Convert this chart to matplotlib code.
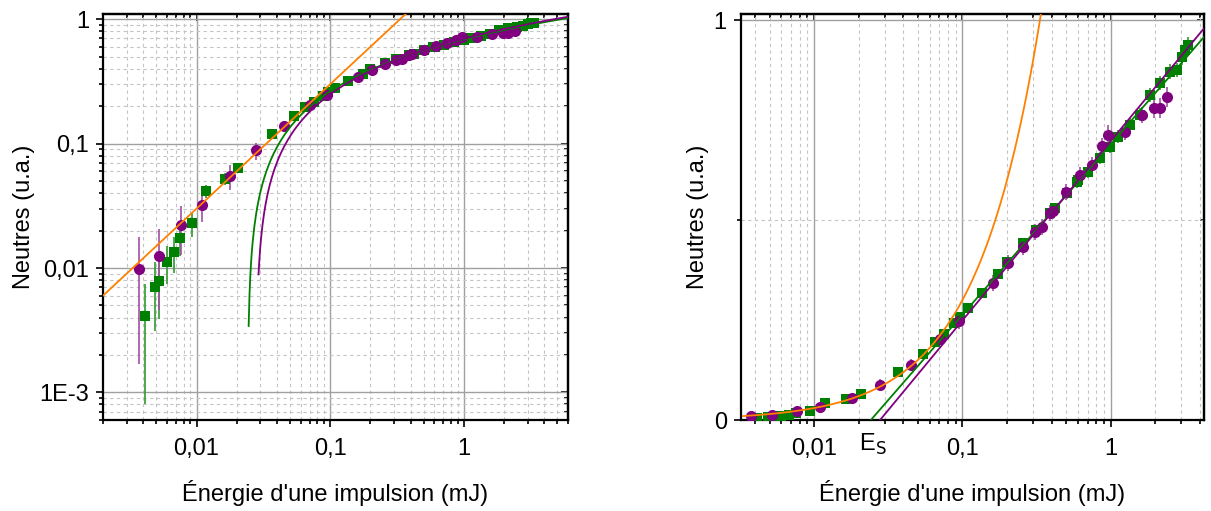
import numpy as np
import matplotlib
matplotlib.use('Agg')
import matplotlib.pyplot as plt
from matplotlib.ticker import FixedLocator, FuncFormatter, LogLocator, NullFormatter
from matplotlib.transforms import blended_transform_factory

plt.rcParams['font.family'] = ['Liberation Sans', 'DejaVu Sans']

# Green squares: energy (mJ), neutrons (a.u.), error
green_x = [0.0041, 0.0049, 0.0052, 0.0060, 0.0068, 0.0075, 0.0093, 0.0118, 0.0164, 0.0206,
           0.037, 0.054, 0.065, 0.075, 0.088, 0.096, 0.109, 0.136, 0.175, 0.200,
           0.255, 0.313, 0.389, 0.423, 0.505, 0.589, 0.604, 0.705, 0.845, 0.993,
           1.125, 1.349, 1.574, 1.84, 2.15, 2.51, 2.79, 3.01, 3.17, 3.33]
green_y = [0.0041, 0.0071, 0.0079, 0.0112, 0.0134, 0.0175, 0.0229, 0.0417, 0.0523, 0.0641,
           0.120, 0.166, 0.195, 0.215, 0.242, 0.258, 0.281, 0.318, 0.365, 0.396,
           0.442, 0.475, 0.517, 0.529, 0.567, 0.596, 0.600, 0.621, 0.654, 0.683,
           0.708, 0.738, 0.763, 0.8125, 0.842, 0.871, 0.875, 0.908, 0.925, 0.9375]
green_err = [0.0033, 0.004, 0.004, 0.0038, 0.0043, 0.005, 0.005, 0.005, 0.006, 0.006,
             0.008, 0.008, 0.008, 0.010, 0.010, 0.010, 0.010, 0.010, 0.012, 0.012,
             0.012, 0.012, 0.014, 0.014, 0.014, 0.015, 0.015, 0.015, 0.015, 0.016,
             0.016, 0.016, 0.016, 0.018, 0.018, 0.018, 0.018, 0.02, 0.02, 0.02]

# Purple circles
purple_x = [0.00373, 0.0052, 0.0077, 0.0109, 0.0179, 0.0280, 0.0448, 0.0711, 0.095, 0.161,
            0.204, 0.255, 0.308, 0.342, 0.39, 0.41, 0.50, 0.621, 0.745, 0.869,
            0.963, 1.249, 1.62, 1.96, 2.15, 2.39]
purple_y = [0.0098, 0.0126, 0.0222, 0.0323, 0.0547, 0.088, 0.138, 0.203, 0.247, 0.343,
            0.392, 0.433, 0.471, 0.482, 0.517, 0.523, 0.569, 0.6125, 0.6375, 0.685,
            0.7125, 0.72, 0.7625, 0.78, 0.78, 0.807]
purple_err = [0.0081, 0.008, 0.0095, 0.009, 0.012, 0.014, 0.015, 0.015, 0.02, 0.02,
              0.02, 0.02, 0.02, 0.02, 0.02, 0.02, 0.02, 0.02, 0.02, 0.02,
              0.025, 0.02, 0.02, 0.025, 0.025, 0.025]

# Fit parameters
orange_coef = 3.0                       # N = a * E
green_slope, green_es = 0.426, 0.0241   # N = k * log10(E / Es)
purple_slope, purple_es = 0.448, 0.0278

GREEN = '#008000'
PURPLE = '#800080'
ORANGE = '#FF8000'


def draw_data(ax):
    ax.errorbar(green_x, green_y, yerr=green_err, fmt='s', color=GREEN, ms=7.5, mew=0,
                ecolor='#2f9a2f', elinewidth=1.2, capsize=3, capthick=1.2, zorder=3)
    ax.errorbar(purple_x, purple_y, yerr=purple_err, fmt='o', color=PURPLE, ms=8, mew=0,
                ecolor='#a34fa3', elinewidth=1.2, capsize=3, capthick=1.2, zorder=3)


def style(ax, xlim, ylim, ymajor, ylabels, yminor=None):
    ax.set_xlim(*xlim)
    ax.set_ylim(*ylim)
    xlab = {0.01: '0,01', 0.1: '0,1', 1: '1'}
    ax.xaxis.set_major_locator(FixedLocator([0.01, 0.1, 1]))
    ax.xaxis.set_major_formatter(FuncFormatter(lambda v, p: xlab.get(round(v, 4), '')))
    ax.xaxis.set_minor_locator(LogLocator(base=10, subs=np.arange(2, 10), numticks=30))
    ax.xaxis.set_minor_formatter(NullFormatter())
    ax.yaxis.set_major_locator(FixedLocator(ymajor))
    ax.yaxis.set_major_formatter(FuncFormatter(lambda v, p: ylabels.get(round(v, 4), '')))
    if yminor is not None:
        ax.yaxis.set_minor_locator(yminor)
    ax.yaxis.set_minor_formatter(NullFormatter())
    ax.set_axisbelow(True)
    ax.grid(which='major', color='#a0a0a0', lw=1.0, ls='-')
    ax.grid(which='minor', color='#c4c4c4', lw=0.8, ls=(0, (3, 3)))
    for s in ax.spines.values():
        s.set_linewidth(1.6)
    ax.tick_params(which='both', direction='out', top=False, right=False, width=1.2,
                   labelsize=17, colors='black')
    ax.tick_params(which='major', length=5)
    ax.tick_params(which='minor', length=3)
    ax.tick_params(axis='x', which='major', pad=8)
    ax.tick_params(axis='y', which='major', pad=5)
    # inward ticks on top and right
    top = ax.secondary_xaxis('top')
    top.xaxis.set_major_locator(FixedLocator([0.01, 0.1, 1]))
    top.xaxis.set_minor_locator(LogLocator(base=10, subs=np.arange(2, 10), numticks=30))
    top.xaxis.set_major_formatter(NullFormatter())
    top.xaxis.set_minor_formatter(NullFormatter())
    top.tick_params(which='both', direction='in', width=1.2)
    top.tick_params(which='major', length=5)
    top.tick_params(which='minor', length=3)
    top.spines['top'].set_linewidth(1.6)
    right = ax.secondary_yaxis('right')
    right.yaxis.set_major_locator(FixedLocator(ymajor))
    if yminor is not None:
        right.yaxis.set_minor_locator(yminor)
    right.yaxis.set_major_formatter(NullFormatter())
    right.yaxis.set_minor_formatter(NullFormatter())
    right.tick_params(which='both', direction='in', width=1.2)
    right.tick_params(which='major', length=5)
    right.tick_params(which='minor', length=3)
    right.spines['right'].set_linewidth(1.6)
    ax.set_xlabel("Énergie d'une impulsion (mJ)", fontsize=17, labelpad=14)
    ax.set_ylabel("Neutres (u.a.)", fontsize=17, labelpad=3)


fig = plt.figure(figsize=(12.11, 5.11), dpi=100)

# Left panel: log-log
ax1 = fig.add_axes([0.0851, 0.178, 0.3839, 0.7946])
ax1.set_xscale('log')
ax1.set_yscale('log')
draw_data(ax1)
e = np.logspace(np.log10(0.002), np.log10(0.4), 200)
ax1.plot(e, orange_coef * e, color=ORANGE, lw=1.3, zorder=4)
e = np.logspace(np.log10(0.02455), np.log10(6), 400)
ax1.plot(e, green_slope * np.log10(e / green_es), color=GREEN, lw=1.3, zorder=4)
e = np.logspace(np.log10(0.0291), np.log10(6), 400)
ax1.plot(e, purple_slope * np.log10(e / purple_es), color=PURPLE, lw=1.3, zorder=4)
style(ax1, (0.002, 6.0), (6e-4, 1.1), [0.001, 0.01, 0.1, 1],
      {0.001: '1E-3', 0.01: '0,01', 0.1: '0,1', 1: '1'},
      LogLocator(base=10, subs=np.arange(2, 10), numticks=30))

# Right panel: log-x, linear y
ax2 = fig.add_axes([0.6116, 0.178, 0.3826, 0.7946])
ax2.set_xscale('log')
draw_data(ax2)
e = np.logspace(np.log10(0.0033), np.log10(0.4), 200)
ax2.plot(e, orange_coef * e, color=ORANGE, lw=1.3, zorder=4)
e = np.logspace(np.log10(green_es), np.log10(4.3), 300)
ax2.plot(e, green_slope * np.log10(e / green_es), color=GREEN, lw=1.3, zorder=4)
e = np.logspace(np.log10(purple_es), np.log10(4.3), 300)
ax2.plot(e, purple_slope * np.log10(e / purple_es), color=PURPLE, lw=1.3, zorder=4)
style(ax2, (0.00319, 4.26), (0, 1.015), [0, 1], {0: '0', 1: '1'}, FixedLocator([0.5]))
trans = blended_transform_factory(ax2.transData, ax2.transAxes)
ax2.text(0.0249, -0.03, r'E$_\mathrm{S}$', transform=trans, ha='center', va='top', fontsize=17)

fig.savefig('out.png', dpi=100)
